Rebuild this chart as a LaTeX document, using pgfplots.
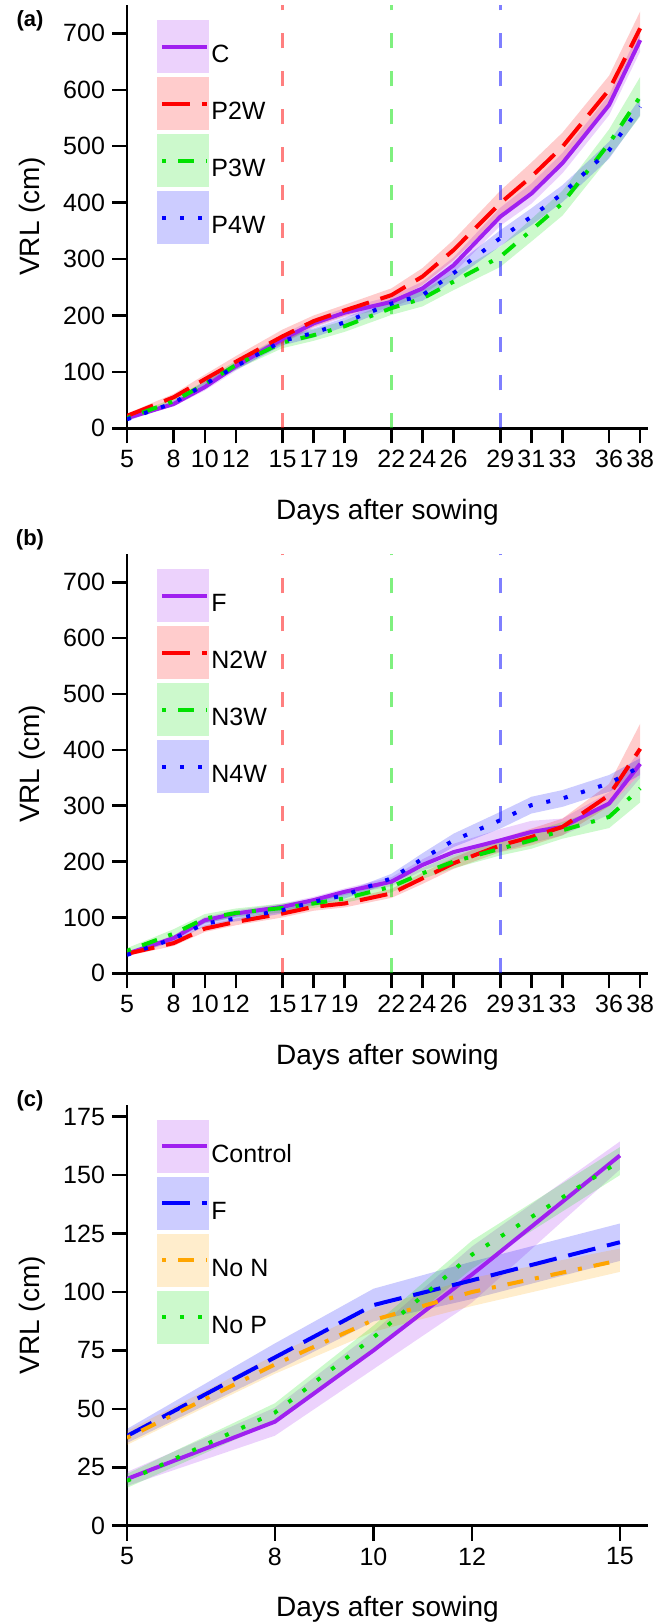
\documentclass[border=0pt]{standalone}
\usepackage{fontspec}
\setmainfont{Liberation Sans}
\usepackage{pgfplots}
\pgfplotsset{compat=1.18}
\usepackage{pgfplotstable}
\usepgfplotslibrary{fillbetween}

\definecolor{cpurple}{RGB}{160,32,240}
\definecolor{cred}{RGB}{255,0,0}
\definecolor{cgreen}{RGB}{0,225,0}
\definecolor{cblue}{RGB}{0,0,255}
\definecolor{corange}{RGB}{255,165,0}

\pgfplotstableread{
day C Ce P2 P2e P3 P3e P4 P4e
5 18 3 22 4 18 3 16 3
8 43 4 55 6 48 5 45 4
10 73 6 87 8 78 6 78 5
12 110 8 118 10 112 8 110 6
15 158 8 163 12 152 10 155 8
17 186 8 190 10 165 10 169 8
19 205 8 209 10 181 10 188 8
22 224 10 236 12 213 12 221 8
24 248 12 269 15 230 14 236 10
26 289 14 316 18 260 15 275 12
29 375 16 399 22 304 18 337 14
31 416 18 446 25 351 20 375 15
33 470 18 499 25 399 22 416 15
36 573 18 600 25 505 25 493 15
38 688 20 709 30 588 35 570 15
}\dataA

\pgfplotstableread{
day F Fe N2 N2e N3 N3e N4 N4e
5 35 3 35 4 40 5 33 3
8 63 5 54 5 71 8 62 5
10 95 6 80 6 98 8 89 5
12 107 6 92 6 108 8 98 5
15 119 6 107 7 117 8 113 6
17 131 6 119 7 125 8 128 6
19 146 6 125 7 134 8 140 6
22 164 8 143 8 155 10 170 8
24 194 10 170 10 179 10 205 10
26 217 15 197 10 200 12 238 12
29 238 20 229 12 223 12 274 15
31 253 20 244 15 238 15 301 15
33 262 15 262 15 256 15 313 15
36 304 20 319 20 280 20 340 15
38 375 25 402 45 331 25 370 15
}\dataB

\pgfplotstableread{
day Ctl Ctle F Fe NoN NoNe NoP NoPe
5 20 3 38.4 3 37.6 3 19.2 3
8 44.5 6 72 6 69 4 48.4 4
10 75 8 94.4 7 88 5 80.6 5
12 107.5 12 105 8 100 6 116 6
15 158.4 6 121.3 8 113.6 5 156 6
}\dataC

\pgfplotsset{
  panel/.style={
    scale only axis, width=260.5pt,
    axis x line*=bottom, axis y line*=left,
    axis line style={-, line width=1.25pt, black},
    major tick style={line width=1.25pt, black},
    major tick length=7.5pt, tick align=outside,
    ticklabel style={font=\fontsize{12.5}{14}\selectfont},
    /pgf/number format/assume math mode=true,
    label style={font=\fontsize{14}{16}\selectfont},
    legend style={draw=none, fill=none, anchor=north west,
      at={(axis description cs:0.0576,0.9657)},
      font=\fontsize{12.5}{14}\selectfont, row sep=2pt, inner sep=0pt,
      nodes={inner xsep=1pt, inner ysep=0pt}},
    legend cell align=left,
    ylabel={VRL (cm)}, xlabel={Days after sowing},
    ylabel style={at={(axis description cs:-0.182,0.5)}, anchor=center},
  },
  sline/.style={line width=2pt, solid},
  ldash/.style={line width=2pt, dash pattern=on 14pt off 6pt},
  ddash/.style={line width=2pt, dash pattern=on 2pt off 6pt on 8pt off 6pt},
  dots/.style={line width=2pt, dash pattern=on 2pt off 7pt},
  bandleg/.style={legend image code/.code={
    \fill[#1, fill opacity=0.2, draw=none] (0pt,-8.75pt) rectangle (26pt,17.75pt);
    \draw (2.5pt,4.5pt) -- (25pt,4.5pt);}},
  vline/.style={line width=1.75pt, #1, opacity=0.5, dash pattern=on 7.5pt off 11.5pt, forget plot},
}

\newcommand{\band}[5]{%
  \addplot[draw=none, forget plot, name path=U#5] table[x=day, y expr=\thisrow{#2}+\thisrow{#3}] {#1};
  \addplot[draw=none, forget plot, name path=L#5] table[x=day, y expr=\thisrow{#2}-\thisrow{#3}] {#1};
  \addplot[#4, fill opacity=0.2, draw=none, forget plot] fill between[of=U#5 and L#5];
}

\begin{document}
\begin{tikzpicture}

% ---------- panel (a)
\begin{axis}[panel, at={(63.5pt,-214.15pt)}, anchor=south west,
  height=211.6pt, xmin=5, xmax=38.5, ymin=0, ymax=750,
  xtick={5,8,10,12,15,17,19,22,24,26,29,31,33,36,38},
  ytick={0,100,...,700},
  xlabel style={at={(axis description cs:0.5,-0.198)}, anchor=center}]
\band{\dataA}{C}{Ce}{cpurple}{aC}
\band{\dataA}{P2}{P2e}{cred}{aPa}
\band{\dataA}{P3}{P3e}{cgreen}{aPb}
\band{\dataA}{P4}{P4e}{cblue}{aPc}
\addplot[vline=cred] coordinates {(15,0) (15,750)};
\addplot[vline=cgreen] coordinates {(22,0) (22,750)};
\addplot[vline=cblue] coordinates {(29,0) (29,750)};
\addplot[cpurple, sline, bandleg=cpurple] table[x=day, y=C] {\dataA};
\addlegendentry{C}
\addplot[cred, ldash, bandleg=cred] table[x=day, y=P2] {\dataA};
\addlegendentry{P2W}
\addplot[cgreen, ddash, bandleg=cgreen] table[x=day, y=P3] {\dataA};
\addlegendentry{P3W}
\addplot[cblue, dots, bandleg=cblue] table[x=day, y=P4] {\dataA};
\addlegendentry{P4W}
\end{axis}

% ---------- panel (b)
\begin{axis}[panel, at={(63.5pt,-486.65pt)}, anchor=south west,
  height=209.5pt, xmin=5, xmax=38.5, ymin=0, ymax=750,
  xtick={5,8,10,12,15,17,19,22,24,26,29,31,33,36,38},
  ytick={0,100,...,700},
  xlabel style={at={(axis description cs:0.5,-0.2)}, anchor=center}]
\band{\dataB}{F}{Fe}{cpurple}{bF}
\band{\dataB}{N2}{N2e}{cred}{bNa}
\band{\dataB}{N3}{N3e}{cgreen}{bNb}
\band{\dataB}{N4}{N4e}{cblue}{bNc}
\addplot[vline=cred] coordinates {(15,0) (15,750)};
\addplot[vline=cgreen] coordinates {(22,0) (22,750)};
\addplot[vline=cblue] coordinates {(29,0) (29,750)};
\addplot[cpurple, sline, bandleg=cpurple] table[x=day, y=F] {\dataB};
\addlegendentry{F}
\addplot[cred, ldash, bandleg=cred] table[x=day, y=N2] {\dataB};
\addlegendentry{N2W}
\addplot[cgreen, ddash, bandleg=cgreen] table[x=day, y=N3] {\dataB};
\addlegendentry{N3W}
\addplot[cblue, dots, bandleg=cblue] table[x=day, y=N4] {\dataB};
\addlegendentry{N4W}
\end{axis}

% ---------- panel (c)
\begin{axis}[panel, at={(63.5pt,-762.85pt)}, anchor=south west,
  height=210.35pt, xmin=5, xmax=15.57, ymin=0, ymax=180,
  xtick={5,8,10,12,15},
  ytick={0,25,...,175},
  xlabel style={at={(axis description cs:0.5,-0.199)}, anchor=center}]
\band{\dataC}{Ctl}{Ctle}{cpurple}{cC}
\band{\dataC}{F}{Fe}{cblue}{cF}
\band{\dataC}{NoN}{NoNe}{corange}{cN}
\band{\dataC}{NoP}{NoPe}{cgreen}{cP}
\addplot[cpurple, sline, bandleg=cpurple] table[x=day, y=Ctl] {\dataC};
\addlegendentry{Control}
\addplot[cblue, ldash, bandleg=cblue] table[x=day, y=F] {\dataC};
\addlegendentry{F}
\addplot[corange, ddash, bandleg=corange] table[x=day, y=NoN] {\dataC};
\addlegendentry{No N}
\addplot[cgreen, dots, bandleg=cgreen] table[x=day, y=NoP] {\dataC};
\addlegendentry{No P}
\end{axis}

\node[font=\bfseries\fontsize{11}{13}\selectfont] at (15pt,-10.25pt) {(a)};
\node[font=\bfseries\fontsize{11}{13}\selectfont] at (15pt,-270pt) {(b)};
\node[font=\bfseries\fontsize{11}{13}\selectfont] at (15pt,-550.25pt) {(c)};
\pgfresetboundingbox
\path (0,0) rectangle (333.5pt,-811.5pt);
\end{tikzpicture}
\end{document}
